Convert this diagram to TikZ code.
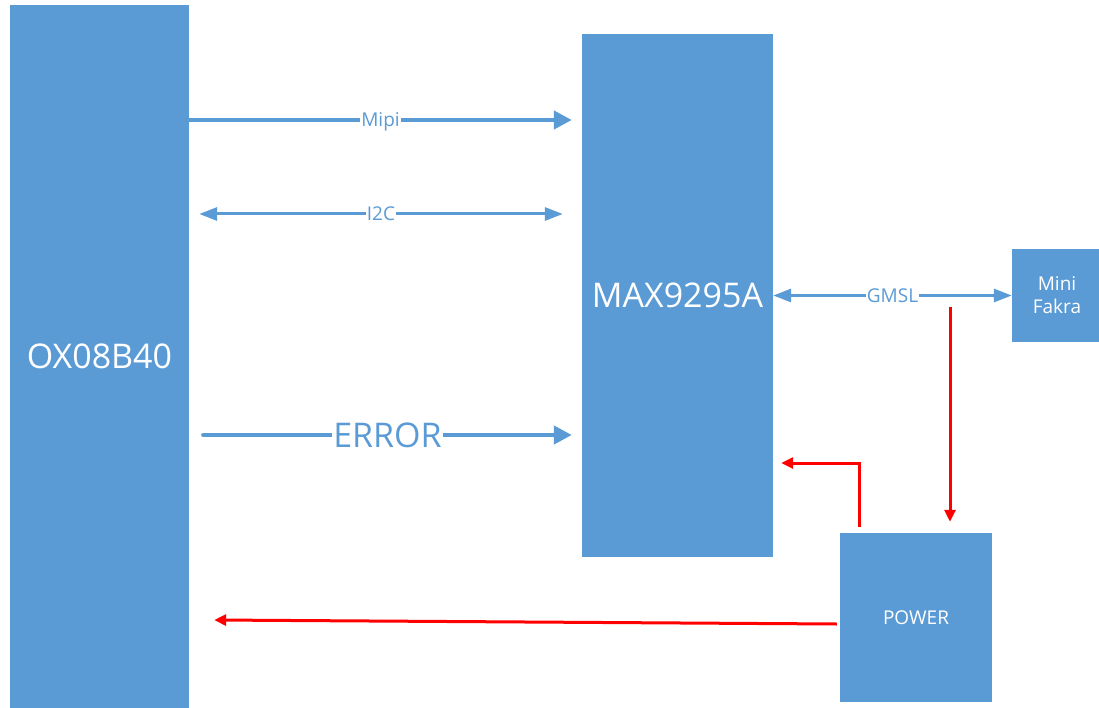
\documentclass[tikz,border=0pt]{standalone}
\usepackage{fontspec}
\setmainfont{Open Sans}
\usetikzlibrary{arrows.meta,calc}
\definecolor{boxblue}{HTML}{5B9BD5}
\definecolor{pred}{HTML}{FF0000}
\begin{document}
\begin{tikzpicture}[x=1pt,y=-1pt,
  box/.style={fill=boxblue,draw=none,text=white,inner sep=0pt,align=center},
  small/.style={font=\fontsize{19}{23}\selectfont},
  big/.style={font=\fontsize{34}{40}\selectfont},
  lbl/.style={fill=white,text=boxblue,inner xsep=1pt,inner ysep=0pt,text height=13.6pt,text depth=0pt},
  bthick/.style={draw=boxblue,line width=4.3pt},
  bthin/.style={draw=boxblue,line width=3pt},
  btip/.style={-{Triangle[length=18pt,width=18pt]}},
  btips/.style={{Triangle[length=18pt,width=13pt]}-{Triangle[length=18pt,width=13pt]}},
  rarr/.style={draw=pred,line width=3pt,-{Triangle[length=12pt,width=11pt]}}
]
\useasboundingbox (0,0) rectangle (1099,708);
\clip (0,0) rectangle (1099,708);
\fill[white] (0,0) rectangle (1099,708);

% blocks
\node[box,big,minimum width=179pt,minimum height=703pt] (ox) at (99.5,356.5) {OX08B40};
\node[box,big,minimum width=191pt,minimum height=523pt] (max) at (677.5,295.5) {MAX9295A};
\node[box,small,minimum width=90pt,minimum height=93pt] (mini) at (1057,295.5) {Mini\\Fakra};
\node[box,small,minimum width=152pt,minimum height=169pt] (pw) at (916,617.5) {POWER};

% free ends
\coordinate (mipiE) at ($(max.west |- 0,120)+(-10,0)$);
\coordinate (i2cW) at ($(ox.east |- 0,214)+(10,0)$);
\coordinate (i2cE) at ($(max.west |- 0,214)+(-19,0)$);
\coordinate (errW) at ($(ox.east |- 0,435)+(14,0)$);
\coordinate (errE) at ($(max.west |- 0,435)+(-10,0)$);
\coordinate (tap) at (950,307);
\coordinate (pwTop) at ($(pw.north -| 950,0)+(0,-11)$);
\coordinate (pwUp) at ($(pw.north -| 859,0)+(0,-6)$);
\coordinate (maxIn) at ($(max.east |- 0,463)+(8,0)$);
\coordinate (pwL) at ($(pw.west |- 0,624)+(-3,0)$);
\coordinate (oxIn) at ($(ox.east |- 0,620)+(25,0)$);

% blue connectors
\draw[bthick,btip] (ox.east |- 0,120) -- node[lbl,small]{Mipi} (mipiE);
\draw[bthin,btips] (i2cW) -- node[lbl,small]{I2C} (i2cE);
\draw[bthin,btips] (max.east) -- node[lbl,small]{GMSL} (mini.west);
\draw[bthick,btip,line cap=round] (errW) -- node[lbl,big,text height=24.3pt]{ERROR} (errE);

% red connectors
\draw[rarr] (tap) -- (pwTop);
\draw[rarr] (pwUp) |- (maxIn);
\draw[rarr] (pwL) -- (oxIn);
\end{tikzpicture}
\end{document}
